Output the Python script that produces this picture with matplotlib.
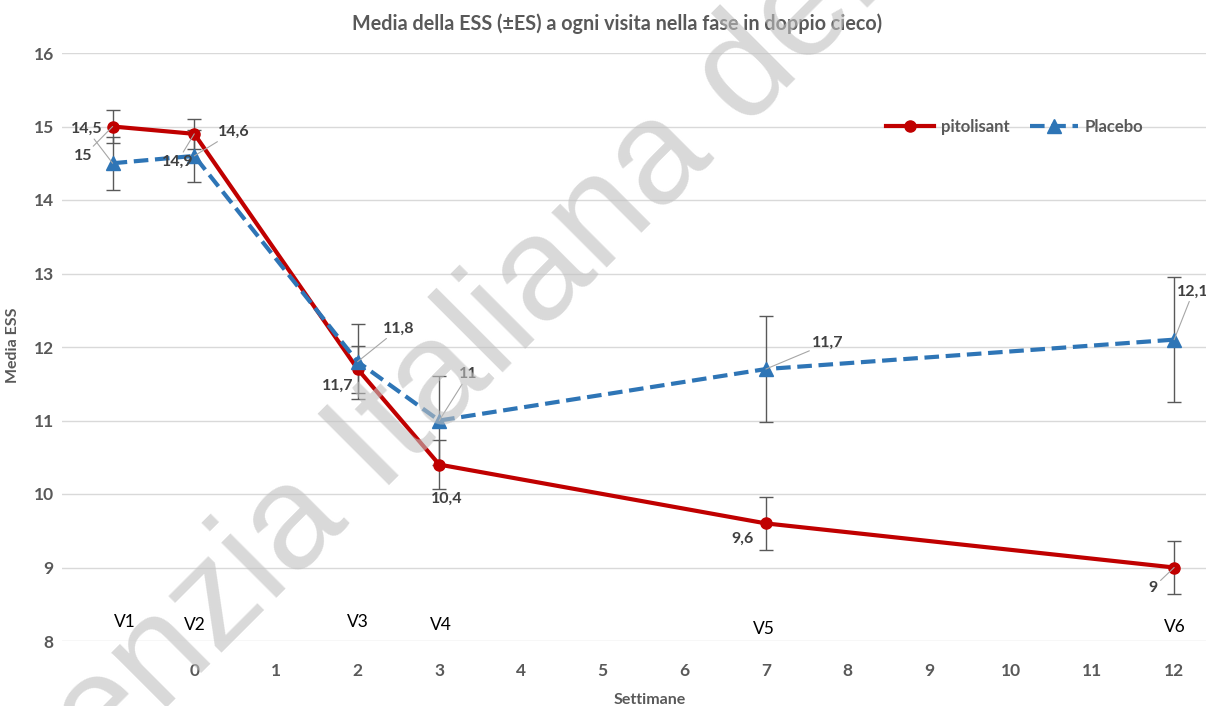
import matplotlib
matplotlib.use("Agg")
import matplotlib.pyplot as plt

plt.rcParams['font.family'] = ['Lato', 'DejaVu Sans']

# settimane (V1 = screening, prima della settimana 0)
weeks = [-1, 0, 2, 3, 7, 12]
visits = ["V1", "V2", "V3", "V4", "V5", "V6"]

pito_mean = [15.0, 14.9, 11.7, 10.4, 9.6, 9.0]
pito_se = [0.22, 0.20, 0.32, 0.33, 0.36, 0.36]
plac_mean = [14.5, 14.6, 11.8, 11.0, 11.7, 12.1]
plac_se = [0.36, 0.35, 0.51, 0.60, 0.72, 0.85]

# etichette come nell'originale (V1 scambiate)
pito_labels = ["15", "14,9", "11,7", "10,4", "9,6", "9"]
plac_labels = ["14,5", "14,6", "11,8", "11", "11,7", "12,1"]

red = '#C00000'
blue = '#2E75B6'
grey = '#595959'
lab_col = '#404040'

fig = plt.figure(figsize=(12.06, 7.06), dpi=100)
ax = fig.add_axes([62/1206, 1-641/706, 1-62/1206, (641-53)/706])

ax.set_xlim(-1.62, 12.39)
ax.set_ylim(8, 16)
ax.set_yticks(range(8, 17))
ax.set_xticks(range(0, 13))
ax.grid(axis='y', color='#d9d9d9', lw=1)
ax.set_axisbelow(True)
for s in ax.spines.values():
    s.set_visible(False)
ax.tick_params(length=0, labelcolor=grey, labelsize=12.5)
ax.tick_params(axis='x', pad=16)
ax.tick_params(axis='y', pad=6)
for t in ax.get_xticklabels() + ax.get_yticklabels():
    t.set_fontweight('bold')

ax.errorbar(weeks, pito_mean, yerr=pito_se, fmt='none', ecolor=grey, elinewidth=1, capsize=5, capthick=1, zorder=2)
ax.errorbar(weeks, plac_mean, yerr=plac_se, fmt='none', ecolor=grey, elinewidth=1, capsize=5, capthick=1, zorder=2)

ax.plot(weeks, pito_mean, color=red, lw=3, marker='o', ms=8, label='pitolisant', zorder=3)
ax.plot(weeks, plac_mean, color=blue, lw=3, ls=(0, (3.5, 1.6)), marker='^', ms=10, label='Placebo', zorder=4)

# posizioni delle etichette (pixel rispetto al punto) e linee guida
pito_off = [(-29, -29.5), (-17, -28), (-20, -17), (8, -34), (-23, -15), (-21, -20)]
pito_lead = [True, True, False, False, False, True]
plac_off = [(-26, 34), (39, 24), (41, 33), (29, 46), (62, 26), (19, 48)]
plac_lead = [True, True, True, True, True, True]

def put_labels(means, labels, offs, leads):
    for x, y, s, o, ld in zip(weeks, means, labels, offs, leads):
        ap = None
        if ld:
            ap = dict(arrowstyle='-', color='#a6a6a6', lw=0.8, shrinkA=0, shrinkB=0)
        ax.annotate(s, xy=(x, y), xytext=o, textcoords='offset pixels', ha='center', va='center',
                    fontsize=11.5, fontweight='bold', color=lab_col, arrowprops=ap, zorder=6,
                    annotation_clip=False)

put_labels(pito_mean, pito_labels, pito_off, pito_lead)
put_labels(plac_mean, plac_labels, plac_off, plac_lead)

# etichette delle visite
visit_x = [-0.85, 0.01, 2.0, 3.02, 6.97, 12.01]
visit_y = [8.26, 8.22, 8.26, 8.22, 8.16, 8.19]
for vx, vy, v in zip(visit_x, visit_y, visits):
    ax.text(vx, vy, v, ha='center', va='center', fontsize=12.5, color='black', zorder=6)

ax.set_xlabel("Settimane", fontsize=11.5, fontweight='bold', color=grey)
ax.xaxis.set_label_coords((650-62)/1144, (641-693)/588)
ax.set_ylabel("Media ESS", fontsize=11.5, fontweight='bold', color=grey)
ax.yaxis.set_label_coords((20-62)/1144, (641-345)/588)

fig.text(617/1206, 1-24/706, "Media della ESS (±ES) a ogni visita nella fase in doppio cieco)",
         ha='center', va='center', fontsize=14.2, fontweight='bold', color=grey)

leg = ax.legend(loc='center left', bbox_to_anchor=(871/1206, 1-127/706), bbox_transform=fig.transFigure,
                ncol=2, frameon=False, handlelength=2.9, columnspacing=1.2, handletextpad=0.4,
                prop={'weight': 'bold', 'size': 12})
for t in leg.get_texts():
    t.set_color(grey)

# filigrana
fig.text(-25/1206, 1-900/706, "Agenzia Italiana del Farmaco", rotation=45, rotation_mode='anchor',
         ha='left', va='baseline', fontsize=106, color='#c0c0c0', alpha=0.6,
         family=['Liberation Sans Narrow', 'Liberation Sans'], fontstretch='condensed', zorder=10)

fig.savefig("out.png", dpi=100)
